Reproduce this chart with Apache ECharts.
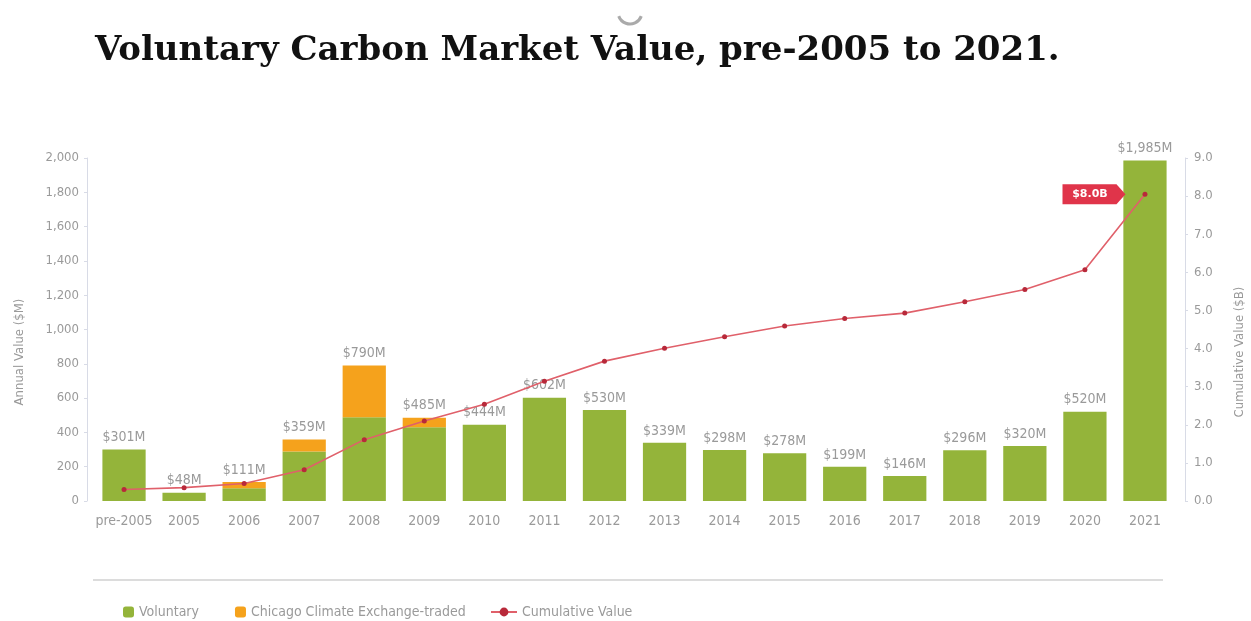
<!DOCTYPE html>
<html>
<head>
<meta charset="utf-8">
<script src="https://cdn.jsdelivr.net/npm/echarts@6/dist/echarts.min.js"></script>
<style>html,body{margin:0;padding:0;background:#fff}#c{width:1251px;height:621px}</style>
</head>
<body>
<div id="c"></div>
<script>
const categories = ['pre-2005','2005','2006','2007','2008','2009','2010','2011','2012','2013','2014','2015','2016','2017','2018','2019','2020','2021'];
const voluntary = [301,48,74,288,488,430,444,602,530,339,298,278,199,146,296,320,520,1985];
const ccxTraded = [0,0,37,71,302,55,0,0,0,0,0,0,0,0,0,0,0,0];
const cumulative = [0.30,0.35,0.46,0.82,1.61,2.10,2.54,3.14,3.67,4.01,4.31,4.59,4.79,4.93,5.23,5.55,6.07,8.05];
const leftTicks = {min:0, max:2000, interval:200};
const rightTicks = {min:0, max:9, interval:1};
const calloutText = '$8.0B';
const leftAxisName = 'Annual Value ($M)';
const rightAxisName = 'Cumulative Value ($B)';

const totals = voluntary.map((v,i)=>v+ccxTraded[i]);
const fmtM = v => '$' + v.toLocaleString('en-US') + 'M';

const FONT = "'DejaVu Sans Condensed','Liberation Sans Narrow',sans-serif";
const GRAY = '#9a9a9a';
const chart = echarts.init(document.getElementById('c'));
chart.setOption({
  animation:false,
  title:{
    text:'Voluntary Carbon Market Value, pre-2005 to 2021.',
    left:90, top:29,
    textStyle:{fontFamily:"'DejaVu Serif',serif",fontWeight:'bold',fontSize:34,color:'#111'}
  },
  legend:[{
    left:118, top:600, itemWidth:11, itemHeight:11, itemGap:36,
    data:['Voluntary','Chicago Climate Exchange-traded'],
    textStyle:{fontFamily:FONT,fontSize:14,color:GRAY}
  },{
    left:485, top:600, itemWidth:26, itemHeight:11,
    data:['Cumulative Value'],
    textStyle:{fontFamily:FONT,fontSize:14,color:GRAY}
  }],
  grid:{left:94, right:76, top:158, bottom:120},
  xAxis:{
    type:'category', data:categories,
    axisLine:{show:false}, axisTick:{show:false},
    axisLabel:{interval:0,fontFamily:FONT,fontSize:14,color:GRAY,margin:13}
  },
  yAxis:[{
    type:'value', min:leftTicks.min, max:leftTicks.max, interval:leftTicks.interval, offset:7,
    axisLine:{show:true,lineStyle:{color:'#d8dbe6',width:1}},
    axisTick:{show:true,length:3,lineStyle:{color:'#d8dbe6'}},
    splitLine:{show:false},
    axisLabel:{fontFamily:FONT,fontSize:13,color:GRAY,margin:8,
      formatter:v=>v.toLocaleString('en-US')}
  },{
    type:'value', min:rightTicks.min, max:rightTicks.max, interval:rightTicks.interval, offset:10,
    position:'right',
    axisLine:{show:true,lineStyle:{color:'#d8dbe6',width:1}},
    axisTick:{show:true,length:3,lineStyle:{color:'#d8dbe6'}},
    splitLine:{show:false},
    axisLabel:{fontFamily:FONT,fontSize:13,color:GRAY,margin:9,
      formatter:v=>v.toFixed(1)}
  }],
  series:[{
    name:'Voluntary', type:'bar', stack:'a', data:voluntary,
    barCategoryGap:'28%', itemStyle:{color:'#94b43a'}
  },{
    name:'Chicago Climate Exchange-traded', type:'bar', stack:'a', data:ccxTraded,
    itemStyle:{color:'#f5a21c'},
    label:{show:true, position:'top', distance:5, fontFamily:FONT, fontSize:14, color:GRAY,
      formatter:p=>fmtM(totals[p.dataIndex])}
  },{
    name:'Cumulative Value', type:'line', yAxisIndex:1, data:cumulative,
    symbol:'circle', symbolSize:5,
    lineStyle:{color:'#e0606a',width:1.6},
    itemStyle:{color:'#b8293a'},
    markPoint:{
      symbol:'path://M0,0 L54,0 L63,10 L54,20 L0,20 Z',
      symbolSize:[63,20], symbolKeepAspect:false, symbolOffset:[-51,0],
      itemStyle:{color:'#e0344a'},
      label:{show:true, formatter:calloutText, color:'#fff', fontWeight:'bold',
        fontFamily:"'DejaVu Sans',sans-serif", fontSize:11, offset:[-4,0]},
      data:[{coord:[categories.length-1, cumulative[cumulative.length-1]]}]
    }
  }],
  graphic:[{
    type:'line', shape:{x1:93,y1:580,x2:1163,y2:580},
    style:{stroke:'#dcdcdc',lineWidth:2}, silent:true
  },{
    type:'arc', shape:{cx:630,cy:12,r:12,startAngle:0.35,endAngle:Math.PI-0.35},
    style:{stroke:'#aaaaaa',lineWidth:3,fill:null}, silent:true
  },{
    type:'text', x:20, y:352, rotation:Math.PI/2, silent:true,
    style:{text:leftAxisName, fill:GRAY, font:"13px 'DejaVu Sans Condensed', sans-serif",
      textAlign:'center', textVerticalAlign:'middle'}
  },{
    type:'text', x:1240, y:352, rotation:Math.PI/2, silent:true,
    style:{text:rightAxisName, fill:GRAY, font:"13px 'DejaVu Sans Condensed', sans-serif",
      textAlign:'center', textVerticalAlign:'middle'}
  }]
});
</script>
</body>
</html>
